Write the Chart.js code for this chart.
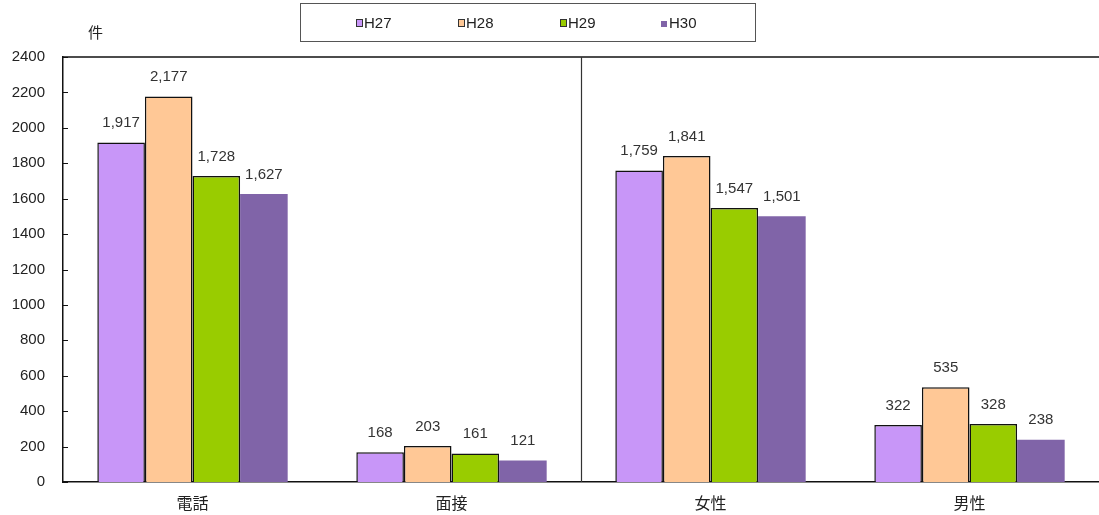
<!DOCTYPE html>
<html><head><meta charset="utf-8">
<script src="https://cdn.jsdelivr.net/npm/chart.js@4.4.0/dist/chart.umd.min.js"></script>
<style>
html,body{margin:0;padding:0;background:#fff;}
#wrap{position:relative;width:1099px;height:515px;}
#legend{position:absolute;left:300px;top:3px;width:456px;height:39px;border:1.5px solid #555;box-sizing:border-box;font-family:"Liberation Sans","DejaVu Sans",sans-serif;font-size:15px;color:#222;}
#legend span.item{position:absolute;top:10px;}
#legend i{display:inline-block;width:5px;height:6px;border:1.5px solid #333;margin-right:1px;vertical-align:1px;}
#unit{position:absolute;left:88px;top:21px;font-family:"Noto Sans CJK JP",sans-serif;font-size:15px;color:#222;}
</style></head>
<body><div id="wrap"><canvas id="c" width="1099" height="515"></canvas>
<div id="legend"></div><div id="unit">件</div></div>
<script>
const categories = ["電話","面接","女性","男性"];
const seriesNames = ["H27","H28","H29","H30"];
const h27 = [1917,168,1759,322];
const h28 = [2177,203,1841,535];
const h29 = [1728,161,1547,328];
const h30 = [1627,121,1501,238];
const yTicks = [0,200,400,600,800,1000,1200,1400,1600,1800,2000,2200,2400];
const colors = ["#C896F8","#FFC896","#99CC00","#8064A8"];
const borders = ["#111","#111","#111","rgba(0,0,0,0)"];
const legendX = [55,157,259,360];

const leg = document.getElementById('legend');
seriesNames.forEach((n,i)=>{
  const s=document.createElement('span');s.className='item';s.style.left=legendX[i]+'px';
  const m=document.createElement('i');m.style.background=colors[i];
  if(i===3){m.style.border='none';m.style.width='6px';m.style.height='6px';m.style.marginRight='2px';}
  s.appendChild(m);s.appendChild(document.createTextNode(n));leg.appendChild(s);
});

const deco = {
  id:'deco',
  afterDatasetsDraw(chart){
    const ctx=chart.ctx, a=chart.chartArea, x=chart.scales.x, y=chart.scales.y;
    ctx.save();
    ctx.strokeStyle='#111';ctx.lineWidth=1.5;
    ctx.beginPath();ctx.moveTo(a.left,a.top);ctx.lineTo(a.right,a.top);ctx.stroke();
    const sx=(x.getPixelForValue(1)+x.getPixelForValue(2))/2;
    ctx.lineWidth=1.2;ctx.strokeStyle='#333';
    ctx.beginPath();ctx.moveTo(Math.round(sx)+0.5,a.top);ctx.lineTo(Math.round(sx)+0.5,a.bottom);ctx.stroke();
    ctx.lineWidth=1;ctx.strokeStyle='#111';
    yTicks.forEach(v=>{const py=Math.round(y.getPixelForValue(v))+0.5;
      ctx.beginPath();ctx.moveTo(a.left,py);ctx.lineTo(a.left+5,py);ctx.stroke();});
    ctx.fillStyle='#333';ctx.font='15px "Liberation Sans","DejaVu Sans",sans-serif';
    ctx.textAlign='center';ctx.textBaseline='bottom';
    chart.data.datasets.forEach((ds,di)=>{
      const meta=chart.getDatasetMeta(di);
      meta.data.forEach((bar,i)=>{
        ctx.fillText(ds.data[i].toLocaleString('en-US'),bar.x,bar.y-12);
      });
    });
    ctx.restore();
  }
};

new Chart(document.getElementById('c'),{
  type:'bar',
  data:{labels:categories,datasets:[h27,h28,h29,h30].map((d,i)=>({
    label:seriesNames[i],data:d,backgroundColor:colors[i],borderColor:borders[i],
    borderWidth:i===3?0:1.5,categoryPercentage:0.735,barPercentage:1
  }))},
  options:{
    responsive:false,animation:false,
    layout:{padding:{top:57,right:0,left:0,bottom:0}},
    plugins:{legend:{display:false},tooltip:{enabled:false}},
    scales:{
      x:{grid:{display:false},border:{color:'#111',width:1.5},
        ticks:{color:'#222',font:{family:'"Noto Sans CJK JP",sans-serif',size:16},padding:3},
        afterFit(s){s.height=33;}},
      y:{min:0,max:2400,grid:{display:false,drawTicks:false},border:{color:'#111',width:1.5},
        afterBuildTicks(s){s.ticks=yTicks.map(v=>({value:v}));},
        ticks:{color:'#222',font:{family:'"Liberation Sans","DejaVu Sans",sans-serif',size:15},padding:18,
          callback:(v)=>String(v)},
        afterFit(s){s.width=63;}}
    }
  },
  plugins:[deco]
});
</script></body></html>
